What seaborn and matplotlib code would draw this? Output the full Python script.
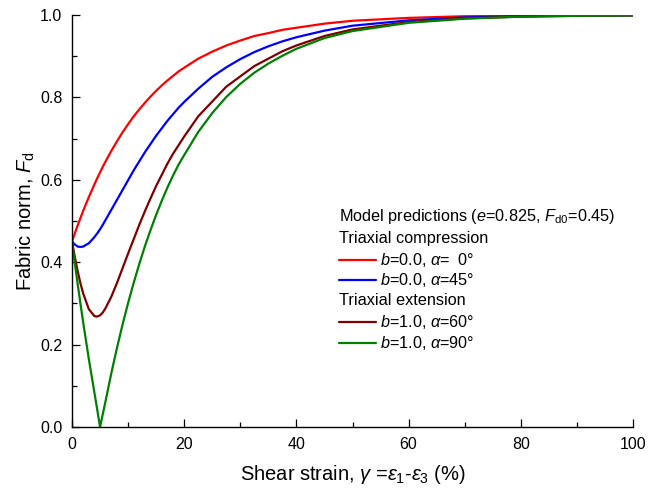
import matplotlib
matplotlib.use("Agg")
import matplotlib.pyplot as plt
import seaborn as sns
import pandas as pd
from matplotlib.ticker import MultipleLocator, FormatStrFormatter
from matplotlib.lines import Line2D

# ---- data ----
gamma = [0, 0.5, 1, 1.5, 2, 3, 4, 4.5, 5, 5.5, 6, 7, 8, 9, 10, 11, 12, 13, 14, 15,
         16, 17, 18, 19, 20, 22.5, 25, 27.5, 30, 32.5, 35, 37.5, 40, 45, 50, 60,
         70, 80, 90, 100]
fd_a0 = [0.450, 0.470, 0.489, 0.507, 0.525, 0.558, 0.589, 0.604, 0.618, 0.632,
         0.645, 0.670, 0.693, 0.715, 0.735, 0.754, 0.771, 0.787, 0.802, 0.816,
         0.829, 0.841, 0.852, 0.863, 0.872, 0.894, 0.911, 0.926, 0.938, 0.949,
         0.956, 0.964, 0.969, 0.979, 0.986, 0.993, 0.997, 0.998, 0.999, 1.000]
fd_a45 = [0.450, 0.443, 0.438, 0.437, 0.438, 0.446, 0.461, 0.470, 0.480, 0.491,
          0.503, 0.527, 0.551, 0.575, 0.599, 0.623, 0.645, 0.667, 0.687, 0.707,
          0.725, 0.743, 0.759, 0.775, 0.789, 0.821, 0.850, 0.873, 0.893, 0.910,
          0.924, 0.936, 0.946, 0.962, 0.974, 0.987, 0.994, 0.997, 0.999, 0.999]
fd_a60 = [0.450, 0.413, 0.379, 0.349, 0.324, 0.286, 0.269, 0.268, 0.271, 0.278,
          0.289, 0.316, 0.349, 0.385, 0.421, 0.456, 0.491, 0.524, 0.555, 0.585,
          0.612, 0.639, 0.663, 0.684, 0.705, 0.754, 0.790, 0.826, 0.851, 0.876,
          0.894, 0.912, 0.926, 0.949, 0.965, 0.983, 0.992, 0.996, 0.998, 0.999]
fd_a90 = [0.450, 0.398, 0.348, 0.300, 0.253, 0.165, 0.083, 0.042, 0.000, 0.032,
          0.064, 0.130, 0.191, 0.248, 0.301, 0.350, 0.396, 0.439, 0.478, 0.515,
          0.549, 0.581, 0.610, 0.637, 0.660, 0.716, 0.762, 0.801, 0.833, 0.860,
          0.882, 0.901, 0.918, 0.944, 0.961, 0.981, 0.991, 0.996, 0.998, 0.999]

series_names = ["b=0.0, a=0", "b=0.0, a=45", "b=1.0, a=60", "b=1.0, a=90"]
series_vals = [fd_a0, fd_a45, fd_a60, fd_a90]
colors = ["#FF0000", "#0000FF", "#800000", "#008000"]
legend_labels = [r"$b$=0.0, $\alpha$=  0°", r"$b$=0.0, $\alpha$=45°",
                 r"$b$=1.0, $\alpha$=60°", r"$b$=1.0, $\alpha$=90°"]

rows = []
for name, vals in zip(series_names, series_vals):
    for g, v in zip(gamma, vals):
        rows.append({"gamma": g, "Fd": v, "case": name})
df = pd.DataFrame(rows)

# ---- style ----
sns.set_theme(style="ticks")
plt.rcParams["font.family"] = ["Liberation Sans", "DejaVu Sans"]
plt.rcParams["mathtext.fontset"] = "custom"
plt.rcParams["mathtext.rm"] = "Liberation Sans"
plt.rcParams["mathtext.it"] = "Liberation Sans:italic"
plt.rcParams["mathtext.bf"] = "Liberation Sans:bold"
for k in ["text.color", "axes.labelcolor", "xtick.color", "ytick.color", "axes.edgecolor"]:
    plt.rcParams[k] = "black"

fig = plt.figure(figsize=(6.65, 4.92), dpi=100)
ax = fig.add_axes([72 / 665, 65 / 492, 561 / 665, 412 / 492])

sns.lineplot(data=df, x="gamma", y="Fd", hue="case", hue_order=series_names,
             palette=colors, linewidth=1.6, ax=ax, legend=False, sort=False)

ax.set_xlim(0, 100)
ax.set_ylim(0, 1.0)
ax.xaxis.set_major_locator(MultipleLocator(20))
ax.xaxis.set_minor_locator(MultipleLocator(10))
ax.yaxis.set_major_locator(MultipleLocator(0.2))
ax.yaxis.set_minor_locator(MultipleLocator(0.1))
ax.yaxis.set_major_formatter(FormatStrFormatter("%.1f"))
ax.tick_params(which="major", direction="in", length=6, width=0.9,
               labelsize=11.5, pad=7)
ax.tick_params(which="minor", direction="in", length=3.5, width=0.9)
for s in ["top", "right"]:
    ax.spines[s].set_visible(False)
for s in ["left", "bottom"]:
    ax.spines[s].set_linewidth(1.0)

ax.set_xlabel(r"Shear strain, $\gamma$ =$\varepsilon_1$-$\varepsilon_3$ (%)",
              fontsize=14.5, labelpad=8)
ax.set_ylabel(r"Fabric norm, $F_{\mathrm{d}}$", fontsize=14.5, labelpad=2)

# ---- legend (manual layout) ----
fs = 11.7
x_line0, x_line1, x_text = 0.476, 0.542, 0.549
rows_y = [0.510, 0.457, 0.405, 0.357, 0.306, 0.255, 0.204]
ax.text(x_line0, rows_y[0], r"Model predictions ($e$=0.825, $F_{\mathrm{d0}}$=0.45)",
        transform=ax.transAxes, fontsize=fs, va="center", ha="left")
ax.text(x_line0, rows_y[1], "Triaxial compression", transform=ax.transAxes,
        fontsize=fs, va="center", ha="left")
ax.text(x_line0, rows_y[4], "Triaxial extension", transform=ax.transAxes,
        fontsize=fs, va="center", ha="left")
for yy, col, lab in zip([rows_y[2], rows_y[3], rows_y[5], rows_y[6]], colors, legend_labels):
    ax.add_line(Line2D([x_line0, x_line1], [yy, yy], transform=ax.transAxes,
                       color=col, linewidth=1.6))
    ax.text(x_text, yy, lab, transform=ax.transAxes, fontsize=fs,
            va="center", ha="left")

fig.savefig("out.png", dpi=100)
